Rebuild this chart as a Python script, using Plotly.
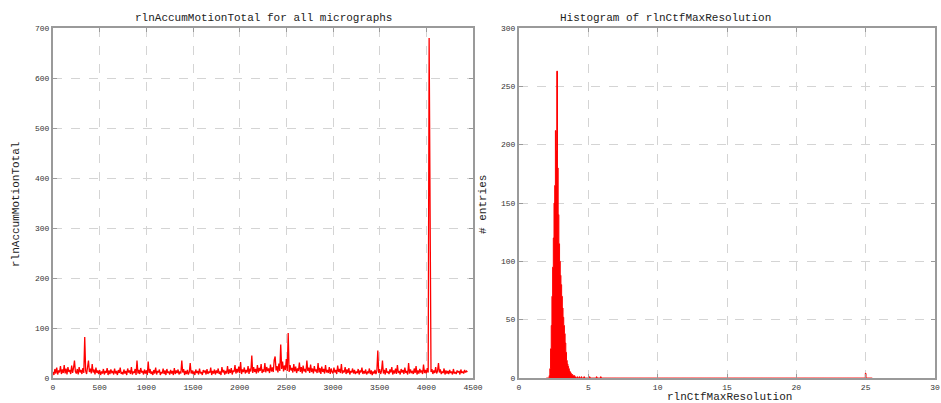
import plotly.graph_objects as go

# ---------------- data ----------------
motion_step = 10  # micrograph index spacing of sampled values
motion_total = [
    12, 6, 18, 9, 21, 7, 15, 11, 24, 8, 17, 10, 26, 9, 19, 7, 22, 12, 16, 8, 25, 10, 20, 35, 13,
    9, 18, 7, 22, 11, 16, 8, 20, 10, 82, 14, 8, 24, 35, 12, 19, 9, 28, 11, 17, 7, 21, 10, 15, 8,
    16, 6, 13, 9, 18, 7, 14, 10, 20, 6, 15, 8, 17, 11, 13, 7, 19, 9, 14, 6, 16, 10, 21, 8, 12,
    7, 17, 9, 14, 6, 19, 11, 15, 8, 22, 7, 13, 10, 18, 6, 35, 9, 16, 8, 20, 11, 14, 7, 17, 9,
    15, 6, 33, 10, 18, 8, 13, 6, 16, 9, 21, 7, 14, 11, 17, 6, 12, 9, 19, 8, 15, 6, 18, 10, 13,
    7, 16, 9, 14, 6, 20, 8, 15, 10, 17, 7, 13, 9, 35, 11, 18, 6, 14, 8, 16, 7, 12, 30, 9, 15,
    8, 13, 6, 17, 10, 14, 7, 19, 9, 12, 6, 16, 11, 15, 7, 18, 8, 13, 10, 21, 6, 14, 9, 17, 7,
    15, 10, 19, 8, 13, 6, 22, 11, 16, 7, 14, 9, 24, 8, 17, 10, 20, 7, 15, 12, 26, 9, 18, 11, 23,
    10, 32, 8, 17, 12, 21, 9, 16, 11, 24, 8, 19, 13, 45, 10, 22, 12, 18, 9, 26, 11, 20, 14, 28, 10,
    17, 12, 30, 11, 22, 14, 19, 10, 27, 13, 21, 12, 36, 43, 15, 24, 11, 29, 14, 67, 18, 33, 13, 25, 16,
    38, 14, 90, 12, 26, 15, 20, 11, 28, 13, 23, 10, 19, 14, 31, 12, 22, 9, 25, 13, 18, 11, 35, 14, 21,
    10, 27, 12, 19, 9, 24, 13, 17, 10, 30, 11, 20, 8, 23, 12, 18, 9, 26, 11, 16, 10, 22, 8, 19, 12,
    9, 21, 11, 16, 8, 25, 12, 18, 10, 28, 9, 15, 11, 22, 8, 17, 10, 20, 7, 14, 11, 19, 9, 16, 8,
    13, 10, 18, 7, 15, 11, 21, 8, 14, 9, 17, 7, 12, 10, 19, 8, 15, 6, 13, 9, 16, 8, 14, 55, 10,
    18, 8, 14, 35, 9, 16, 7, 20, 10, 13, 8, 17, 11, 22, 7, 15, 9, 19, 8, 26, 10, 14, 7, 18, 11,
    16, 8, 21, 10, 14, 7, 30, 9, 17, 11, 13, 8, 19, 10, 24, 7, 15, 9, 18, 12, 14, 8, 27, 10, 16,
    9, 20, 11, 680, 230, 12, 18, 8, 15, 10, 22, 9, 14, 30, 11, 17, 8, 13, 10, 19, 7, 15, 9, 14, 8,
    16, 10, 13, 7, 18, 9, 12, 8, 15, 11, 14, 7, 17, 10, 13, 9, 16, 11, 14, 12,
]
micrograph_index = [i * motion_step for i in range(len(motion_total))]

ctf_bin_width = 0.05
ctf_bin_centers = [
    2.20, 2.25, 2.30, 2.35, 2.40, 2.45, 2.50, 2.55, 2.60, 2.65, 2.70, 2.75,
    2.80, 2.85, 2.90, 2.95, 3.00, 3.05, 3.10, 3.15, 3.20, 3.25, 3.30, 3.35,
    3.40, 3.45, 3.50, 3.55, 3.60, 3.65, 3.70, 3.75, 3.80, 3.85, 3.90, 3.95,
    4.00, 4.05, 4.20, 4.35, 4.50, 4.70, 5.10, 5.60, 5.90, 25.00,
]
ctf_counts = [
    2, 8, 25, 45, 70, 95, 120, 150, 165, 212, 195, 263,
    180, 140, 115, 100, 88, 80, 70, 60, 52, 45, 38, 30,
    22, 15, 12, 10, 8, 6, 5, 4, 3, 3, 2, 2,
    2, 1, 1, 1, 1, 1, 1, 1, 1, 4,
]

# build step outline (zeros between occupied bins)
lookup = {round(c, 2): n for c, n in zip(ctf_bin_centers, ctf_counts)}
nbins = int(round((25.5 - 2.0) / ctf_bin_width))
hx, hy = [], []
for k in range(nbins):
    c = round(2.0 + k * ctf_bin_width, 2)
    hx.append(c - ctf_bin_width / 2)
    hy.append(lookup.get(c, 0))
hx.append(hx[-1] + ctf_bin_width)
hy.append(0)

# ---------------- figure ----------------
W, H = 941, 403
def px_x(p):
    return p / W
def px_y(p):
    return (H - p) / H

RED = "#ff0000"
FONT = "Liberation Mono"
fig = go.Figure()

fig.add_trace(go.Scatter(
    x=micrograph_index, y=motion_total, mode="lines",
    line=dict(color=RED, width=1.3), xaxis="x", yaxis="y", showlegend=False,
))
fig.add_trace(go.Scatter(
    x=hx, y=hy, mode="lines", line=dict(color=RED, width=1, shape="hv"),
    fill="tozeroy", fillcolor=RED, xaxis="x2", yaxis="y2", showlegend=False,
))

axis_common = dict(
    showline=True, linecolor="#9a9a9a", linewidth=2, mirror="ticks",
    ticks="inside", ticklen=4, tickcolor="#9a9a9a", automargin=False,
    showgrid=True, gridcolor="#d4d4d4", griddash="dash", gridwidth=1,
    zeroline=False, tickfont=dict(family=FONT, size=8, color="#333333"),
)
ydom = [px_y(378), px_y(28)]
fig.update_layout(
    width=W, height=H, margin=dict(l=0, r=0, t=0, b=0, autoexpand=False),
    paper_bgcolor="white", plot_bgcolor="white",
    xaxis=dict(domain=[px_x(53), px_x(473)], range=[0, 4500], dtick=500,
               anchor="y", **axis_common),
    yaxis=dict(domain=ydom, range=[0, 700], dtick=100, anchor="x", **axis_common),
    xaxis2=dict(domain=[px_x(519), px_x(935)], range=[0, 30], dtick=5,
                anchor="y2", **axis_common),
    yaxis2=dict(domain=ydom, range=[0, 300], dtick=50, anchor="x2", **axis_common),
)

ann_font = dict(family=FONT, size=11, color="#222222")
def label(text, x, y, angle=0):
    fig.add_annotation(text=text, x=px_x(x), y=px_y(y), textangle=angle,
                       xref="paper", yref="paper", xanchor="center", yanchor="middle",
                       showarrow=False, font=ann_font)

label("rlnAccumMotionTotal for all micrographs", 263, 18)
label("Histogram of rlnCtfMaxResolution", 665, 18)
label("rlnCtfMaxResolution", 729, 397)
label("rlnAccumMotionTotal", 16, 205, -90)
label("# entries", 483, 205, -90)

post = (
    "document.documentElement.style.margin='0';"
    "document.documentElement.style.overflow='hidden';"
    "document.body.style.margin='0';"
    "document.body.style.overflow='hidden';"
    "var gd=document.getElementById('{plot_id}');"
    "gd.style.overflow='hidden';"
)
fig.write_html("out.html", config={"displayModeBar": False}, post_script=post)
